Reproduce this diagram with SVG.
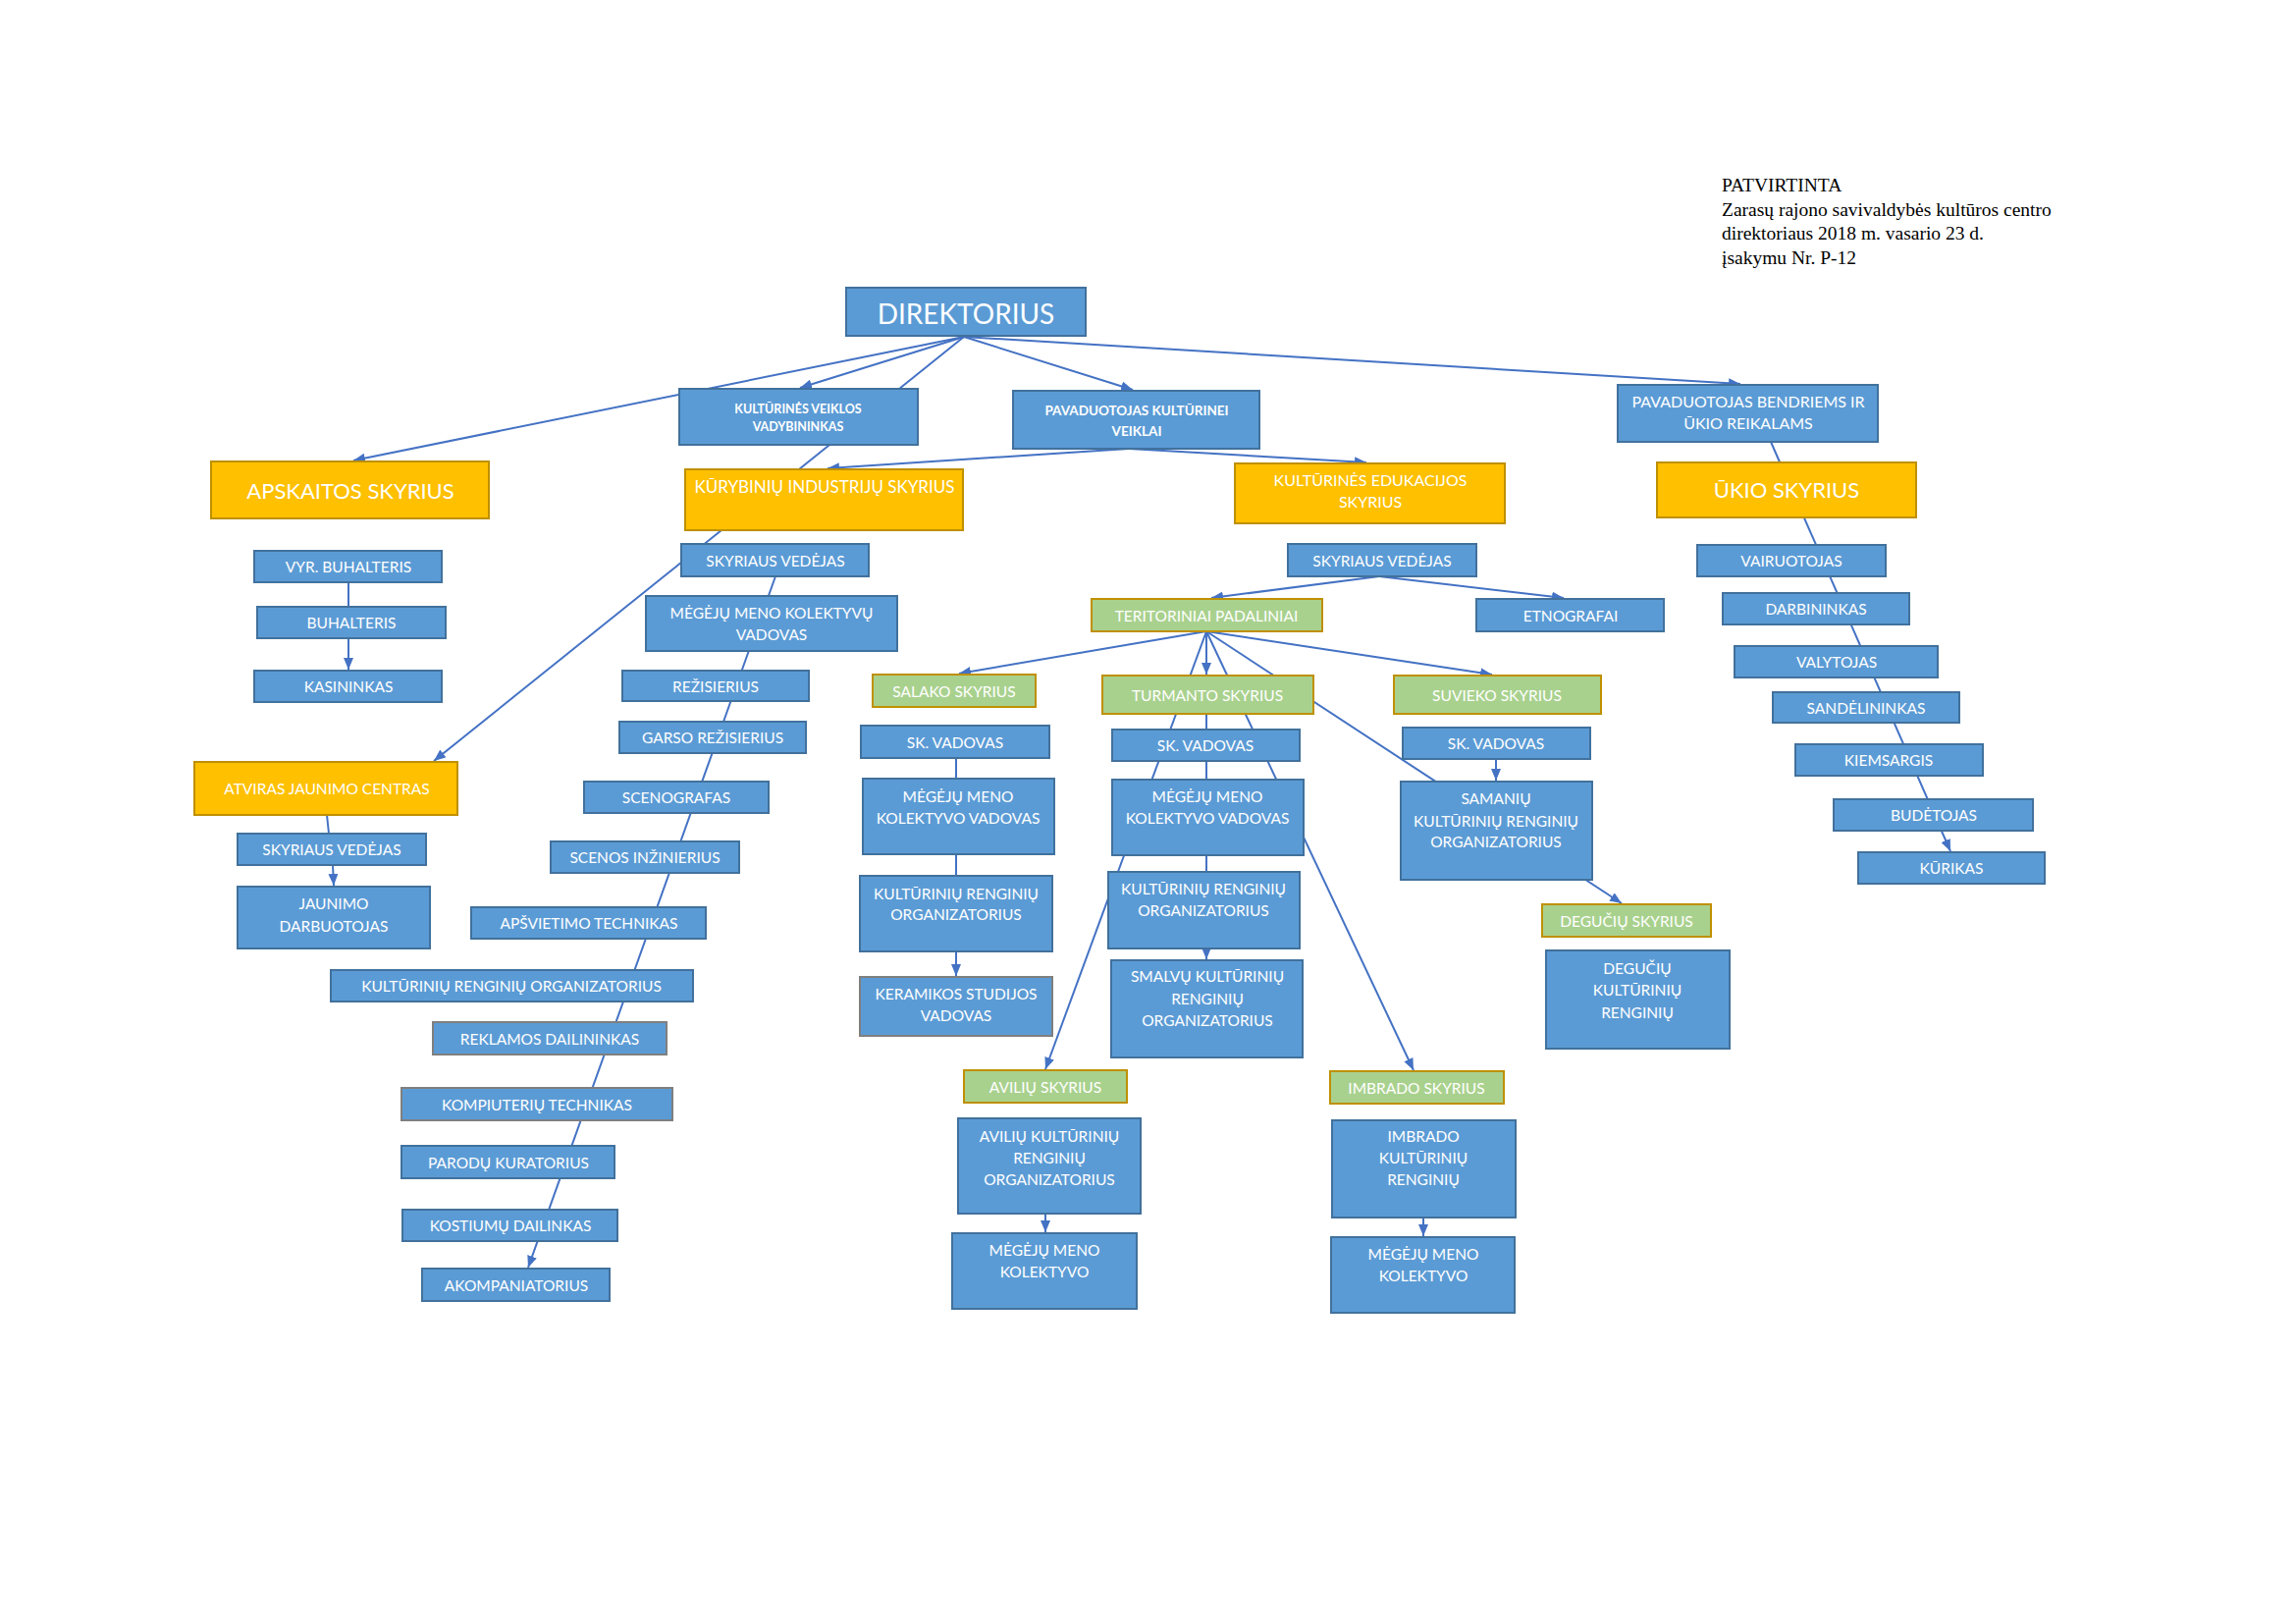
<svg xmlns="http://www.w3.org/2000/svg" width="2339" height="1654" viewBox="0 0 2339 1654">
<style>
.b{fill:#5B9BD5;stroke:#41719C;stroke-width:2}
.gb{fill:#5B9BD5;stroke:#7F7F7F;stroke-width:2}
.y{fill:#FFC000;stroke:#BF9000;stroke-width:2}
.g{fill:#A9D18E;stroke:#BF9000;stroke-width:2}
text{font-family:Lato,"Open Sans","DejaVu Sans",sans-serif;fill:#FFFFFF;font-size:15.5px;text-anchor:middle}
.bd{font-weight:bold}
.c line{stroke:#4472C4;stroke-width:2;fill:none}
.a{marker-end:url(#ar)}
.note text{font-family:"Liberation Serif","Times New Roman",serif;fill:#000;font-size:19.5px;text-anchor:start}
</style>
<defs>
<marker id="ar" markerUnits="userSpaceOnUse" markerWidth="12" markerHeight="10" refX="12" refY="5" orient="auto">
<path d="M0,0 L12,5 L0,10 z" fill="#4472C4"/>
</marker>
</defs>
<rect width="2339" height="1654" fill="#FFFFFF"/>

<g id="connectors" class="c">
<line class="a" x1="982" y1="343" x2="360" y2="469"/>
<line class="a" x1="982" y1="343" x2="815" y2="395"/>
<line x1="982" y1="343" x2="814" y2="478"/>
<line class="a" x1="982" y1="343" x2="1154" y2="397"/>
<line class="a" x1="982" y1="343" x2="1773" y2="391"/>
<line class="a" x1="1150" y1="457" x2="843" y2="477"/>
<line class="a" x1="1150" y1="457" x2="1392" y2="471"/>
<line class="a" x1="1804" y1="450" x2="1987" y2="867"/>
<line class="a" x1="735" y1="540" x2="442" y2="775"/>
<line class="a" x1="790" y1="587" x2="538" y2="1291"/>
<line x1="355" y1="593" x2="355" y2="618"/>
<line class="a" x1="355" y1="650" x2="355" y2="682"/>
<line x1="333" y1="830" x2="335" y2="849"/>
<line class="a" x1="339" y1="881" x2="340" y2="902"/>
<line class="a" x1="1405" y1="587" x2="1234" y2="609"/>
<line class="a" x1="1405" y1="587" x2="1593" y2="609"/>
<line class="a" x1="1229" y1="643" x2="977" y2="686"/>
<line class="a" x1="1229" y1="643" x2="1065" y2="1089"/>
<line class="a" x1="1229" y1="643" x2="1229" y2="687"/>
<line class="a" x1="1229" y1="727" x2="1229" y2="977"/>
<line class="a" x1="1229" y1="643" x2="1440" y2="1090"/>
<line class="a" x1="1229" y1="643" x2="1652" y2="920"/>
<line class="a" x1="1229" y1="643" x2="1520" y2="687"/>
<line class="a" x1="974" y1="772" x2="974" y2="994"/>
<line class="a" x1="1524" y1="773" x2="1524" y2="795"/>
<line class="a" x1="1065" y1="1236" x2="1065" y2="1255"/>
<line class="a" x1="1450" y1="1240" x2="1450" y2="1259"/>
</g>

<g id="note" class="note">
<text x="1754" y="195">PATVIRTINTA</text>
<text x="1754" y="219.5">Zarasų rajono savivaldybės kultūros centro</text>
<text x="1754" y="244">direktoriaus 2018 m. vasario 23 d.</text>
<text x="1754" y="268.5">įsakymu Nr. P-12</text>
</g>

<g id="n-direktorius"><rect class="b" x="862" y="293" width="244" height="49"/><text x="984" y="330" style="font-size:28px">DIREKTORIUS</text></g>
<g id="n-kvv"><rect class="b" x="692" y="396" width="243" height="57"/><text class="bd" x="813" y="420.5" style="font-size:12.5px">KULTŪRINĖS VEIKLOS</text><text class="bd" x="813" y="439" style="font-size:12.5px">VADYBININKAS</text></g>
<g id="n-apskaitos"><rect class="y" x="215" y="470" width="283" height="58"/><text x="357" y="508" style="font-size:22px">APSKAITOS SKYRIUS</text></g>
<g id="n-kurybiniu"><rect class="y" x="698" y="478" width="283" height="62"/><text x="840" y="502" style="font-size:17px">KŪRYBINIŲ INDUSTRIJŲ SKYRIUS</text></g>
<g id="n-pav-kult"><rect class="b" x="1032" y="398" width="251" height="59"/><text class="bd" x="1158" y="423" style="font-size:13.5px">PAVADUOTOJAS KULTŪRINEI</text><text class="bd" x="1158" y="444" style="font-size:13.5px">VEIKLAI</text></g>
<g id="n-edukacijos"><rect class="y" x="1258" y="472" width="275" height="61"/><text x="1396" y="495" style="font-size:16px">KULTŪRINĖS EDUKACIJOS</text><text x="1396" y="517" style="font-size:16px">SKYRIUS</text></g>
<g id="n-pav-bendr"><rect class="b" x="1648" y="392" width="265" height="58"/><text x="1781" y="415" style="font-size:16px">PAVADUOTOJAS BENDRIEMS IR</text><text x="1781" y="437" style="font-size:16px">ŪKIO REIKALAMS</text></g>
<g id="n-ukio"><rect class="y" x="1688" y="471" width="264" height="56"/><text x="1820" y="507" style="font-size:22px">ŪKIO SKYRIUS</text></g>

<g id="n-vyr-buh"><rect class="b" x="259" y="561" width="191" height="32"/><text x="355" y="583">VYR. BUHALTERIS</text></g>
<g id="n-buh"><rect class="b" x="262" y="618" width="192" height="32"/><text x="358" y="640">BUHALTERIS</text></g>
<g id="n-kas"><rect class="b" x="259" y="683" width="191" height="32"/><text x="355" y="705">KASININKAS</text></g>
<g id="n-ajc"><rect class="y" x="198" y="776" width="268" height="54"/><text x="333" y="809">ATVIRAS JAUNIMO CENTRAS</text></g>
<g id="n-ajc-sv"><rect class="b" x="242" y="849" width="192" height="32"/><text x="338" y="871">SKYRIAUS VEDĖJAS</text></g>
<g id="n-jd"><rect class="b" x="242" y="903" width="196" height="63"/><text x="340" y="926">JAUNIMO</text><text x="340" y="949">DARBUOTOJAS</text></g>

<g id="n-ki-sv"><rect class="b" x="694" y="554" width="191" height="33"/><text x="790" y="576.5">SKYRIAUS VEDĖJAS</text></g>
<g id="n-ki-mmkv"><rect class="b" x="658" y="607" width="256" height="56"/><text x="786" y="630">MĖGĖJŲ MENO KOLEKTYVŲ</text><text x="786" y="652">VADOVAS</text></g>
<g id="n-rez"><rect class="b" x="634" y="683" width="190" height="31"/><text x="729" y="704.5">REŽISIERIUS</text></g>
<g id="n-garso"><rect class="b" x="631" y="735" width="190" height="32"/><text x="726" y="757">GARSO REŽISIERIUS</text></g>
<g id="n-sceno"><rect class="b" x="595" y="796" width="188" height="32"/><text x="689" y="818">SCENOGRAFAS</text></g>
<g id="n-scenos"><rect class="b" x="561" y="857" width="192" height="32"/><text x="657" y="879">SCENOS INŽINIERIUS</text></g>
<g id="n-apsv"><rect class="b" x="480" y="924" width="239" height="32"/><text x="600" y="946">APŠVIETIMO TECHNIKAS</text></g>
<g id="n-ki-kro"><rect class="b" x="337" y="988" width="369" height="32"/><text x="521" y="1010">KULTŪRINIŲ RENGINIŲ ORGANIZATORIUS</text></g>
<g id="n-rekl"><rect class="gb" x="441" y="1041" width="238" height="33"/><text x="560" y="1063.5">REKLAMOS DAILININKAS</text></g>
<g id="n-komp"><rect class="gb" x="409" y="1108" width="276" height="33"/><text x="547" y="1130.5">KOMPIUTERIŲ TECHNIKAS</text></g>
<g id="n-par"><rect class="b" x="409" y="1167" width="217" height="33"/><text x="518" y="1189.5">PARODŲ KURATORIUS</text></g>
<g id="n-kost"><rect class="b" x="410" y="1232" width="219" height="32"/><text x="520" y="1254">KOSTIUMŲ DAILINKAS</text></g>
<g id="n-akom"><rect class="b" x="430" y="1292" width="191" height="33"/><text x="526" y="1314.5">AKOMPANIATORIUS</text></g>

<g id="n-ked-sv"><rect class="b" x="1312" y="554" width="192" height="33"/><text x="1408" y="576.5">SKYRIAUS VEDĖJAS</text></g>
<g id="n-etno"><rect class="b" x="1504" y="610" width="191" height="33"/><text x="1600" y="632.5">ETNOGRAFAI</text></g>
<g id="n-tp"><rect class="g" x="1112" y="610" width="235" height="33"/><text x="1229" y="632.5">TERITORINIAI PADALINIAI</text></g>

<g id="n-salako"><rect class="g" x="889" y="687" width="166" height="33"/><text x="972" y="709.5">SALAKO SKYRIUS</text></g>
<g id="n-salako-sk"><rect class="b" x="877" y="739" width="192" height="33"/><text x="973" y="761.5">SK. VADOVAS</text></g>
<g id="n-salako-mm"><rect class="b" x="879" y="793" width="195" height="77"/><text x="976" y="817">MĖGĖJŲ MENO</text><text x="976" y="839">KOLEKTYVO VADOVAS</text></g>
<g id="n-salako-kro"><rect class="b" x="876" y="892" width="196" height="77"/><text x="974" y="916">KULTŪRINIŲ RENGINIŲ</text><text x="974" y="937">ORGANIZATORIUS</text></g>
<g id="n-keramikos"><rect class="gb" x="876" y="995" width="196" height="60"/><text x="974" y="1018">KERAMIKOS STUDIJOS</text><text x="974" y="1040">VADOVAS</text></g>

<g id="n-turmanto"><rect class="g" x="1123" y="688" width="215" height="39"/><text x="1230" y="714">TURMANTO SKYRIUS</text></g>
<g id="n-turm-sk"><rect class="b" x="1133" y="743" width="191" height="32"/><text x="1228" y="765">SK. VADOVAS</text></g>
<g id="n-turm-mm"><rect class="b" x="1133" y="794" width="195" height="77"/><text x="1230" y="817">MĖGĖJŲ MENO</text><text x="1230" y="839">KOLEKTYVO VADOVAS</text></g>
<g id="n-turm-kro"><rect class="b" x="1129" y="888" width="195" height="78"/><text x="1226" y="911">KULTŪRINIŲ RENGINIŲ</text><text x="1226" y="933">ORGANIZATORIUS</text></g>
<g id="n-smalvu"><rect class="b" x="1132" y="978" width="195" height="99"/><text x="1230" y="1000">SMALVŲ KULTŪRINIŲ</text><text x="1230" y="1023">RENGINIŲ</text><text x="1230" y="1045">ORGANIZATORIUS</text></g>

<g id="n-suvieko"><rect class="g" x="1420" y="688" width="211" height="39"/><text x="1525" y="714">SUVIEKO SKYRIUS</text></g>
<g id="n-suv-sk"><rect class="b" x="1429" y="741" width="191" height="32"/><text x="1524" y="763">SK. VADOVAS</text></g>
<g id="n-samaniu"><rect class="b" x="1427" y="796" width="195" height="100"/><text x="1524" y="819">SAMANIŲ</text><text x="1524" y="842">KULTŪRINIŲ RENGINIŲ</text><text x="1524" y="863">ORGANIZATORIUS</text></g>
<g id="n-deguciu"><rect class="g" x="1571" y="921" width="172" height="33"/><text x="1657" y="943.5">DEGUČIŲ SKYRIUS</text></g>
<g id="n-deguciu-kr"><rect class="b" x="1575" y="968" width="187" height="100"/><text x="1668" y="992">DEGUČIŲ</text><text x="1668" y="1014">KULTŪRINIŲ</text><text x="1668" y="1037">RENGINIŲ</text></g>

<g id="n-aviliu"><rect class="g" x="982" y="1090" width="166" height="33"/><text x="1065" y="1112.5">AVILIŲ SKYRIUS</text></g>
<g id="n-aviliu-kr"><rect class="b" x="976" y="1139" width="186" height="97"/><text x="1069" y="1163">AVILIŲ KULTŪRINIŲ</text><text x="1069" y="1185">RENGINIŲ</text><text x="1069" y="1207">ORGANIZATORIUS</text></g>
<g id="n-aviliu-mm"><rect class="b" x="970" y="1256" width="188" height="77"/><text x="1064" y="1279">MĖGĖJŲ MENO</text><text x="1064" y="1301">KOLEKTYVO</text></g>

<g id="n-imbrado"><rect class="g" x="1355" y="1091" width="177" height="33"/><text x="1443" y="1113.5">IMBRADO SKYRIUS</text></g>
<g id="n-imbrado-kr"><rect class="b" x="1357" y="1141" width="187" height="99"/><text x="1450" y="1163">IMBRADO</text><text x="1450" y="1185">KULTŪRINIŲ</text><text x="1450" y="1207">RENGINIŲ</text></g>
<g id="n-imbrado-mm"><rect class="b" x="1356" y="1260" width="187" height="77"/><text x="1450" y="1283">MĖGĖJŲ MENO</text><text x="1450" y="1305">KOLEKTYVO</text></g>

<g id="n-vair"><rect class="b" x="1729" y="555" width="192" height="32"/><text x="1825" y="577">VAIRUOTOJAS</text></g>
<g id="n-darb"><rect class="b" x="1755" y="604" width="190" height="32"/><text x="1850" y="626">DARBININKAS</text></g>
<g id="n-val"><rect class="b" x="1767" y="658" width="207" height="32"/><text x="1871" y="680">VALYTOJAS</text></g>
<g id="n-sand"><rect class="b" x="1806" y="705" width="190" height="31"/><text x="1901" y="726.5">SANDĖLININKAS</text></g>
<g id="n-kiem"><rect class="b" x="1829" y="758" width="191" height="32"/><text x="1924" y="780">KIEMSARGIS</text></g>
<g id="n-bud"><rect class="b" x="1868" y="814" width="203" height="32"/><text x="1970" y="836">BUDĖTOJAS</text></g>
<g id="n-kur"><rect class="b" x="1893" y="868" width="190" height="32"/><text x="1988" y="890">KŪRIKAS</text></g>
</svg>
